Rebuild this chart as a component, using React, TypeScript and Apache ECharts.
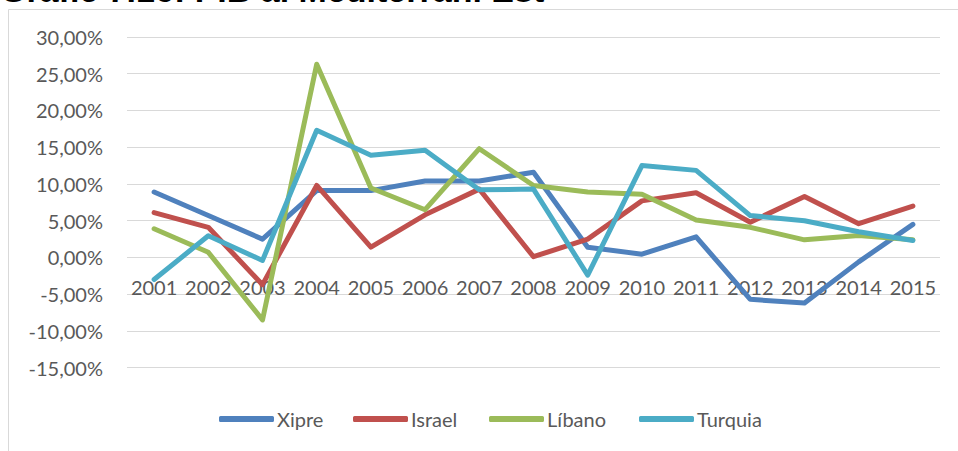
import React, { useEffect, useRef } from "react";
import * as echarts from "echarts";

const TITLE = "Gràfic 7.16: PIB al Mediterrani Est";
const years = ["2001", "2002", "2003", "2004", "2005", "2006", "2007", "2008", "2009", "2010", "2011", "2012", "2013", "2014", "2015"];
const xipre = [8.9, 5.7, 2.5, 9.1, 9.1, 10.4, 10.4, 11.6, 1.4, 0.45, 2.8, -5.7, -6.2, -0.6, 4.5];
const israel = [6.1, 4.1, -3.7, 9.8, 1.4, 5.8, 9.3, 0.1, 2.5, 7.7, 8.8, 4.8, 8.3, 4.6, 7.0];
const libano = [3.9, 0.7, -8.5, 26.3, 9.45, 6.5, 14.8, 9.8, 8.9, 8.6, 5.1, 4.1, 2.4, 3.0, 2.4];
const turquia = [-3.0, 2.95, -0.4, 17.3, 13.9, 14.6, 9.2, 9.3, -2.4, 12.5, 11.85, 5.7, 5.0, 3.5, 2.3];
const seriesNames = ["Xipre", "Israel", "Líbano", "Turquia"];
const seriesData = [xipre, israel, libano, turquia];
const colors = ["#4F81BD", "#C0504D", "#9BBB59", "#4BACC6"];
const legendLefts = [214, 348, 484, 634];

const FONT = "Lato";

export default function App() {
  const ref = useRef<HTMLDivElement>(null);
  useEffect(() => {
    if (!ref.current) return;
    const chart = echarts.init(ref.current, undefined, { renderer: "svg" });
    chart.setOption({
      animation: false,
      backgroundColor: "#ffffff",
      graphic: [
        {
          type: "rect",
          shape: { x: 8.5, y: 9.5, width: 1000, height: 500 },
          style: { fill: "none", stroke: "#D9D9D9", lineWidth: 1 },
          z: -1,
        },
        {
          type: "text",
          x: 0,
          y: -10.5,
          style: {
            text: TITLE,
            font: "bold 34px 'Liberation Sans', Arial, sans-serif",
            fill: "#000000",
            verticalAlign: "middle",
          },
        },
      ],
      grid: { left: 127, right: 18, top: 37, bottom: 83.3, containLabel: false },
      xAxis: {
        type: "category",
        data: years,
        boundaryGap: true,
        offset: -110,
        axisLine: { show: false, onZero: false },
        axisTick: { show: false },
        axisLabel: { color: "#595959", fontSize: 20, fontFamily: FONT, margin: 19, interval: 0 },
      },
      yAxis: {
        type: "value",
        min: -15,
        max: 30,
        interval: 5,
        axisLine: { show: false },
        axisTick: { show: false },
        splitLine: { lineStyle: { color: "#D9D9D9", width: 1 } },
        axisLabel: {
          color: "#595959",
          fontSize: 20,
          fontFamily: FONT,
          margin: 24,
          formatter: (v: number) => v.toFixed(2).replace(".", ",") + "%",
        },
      },
      legend: seriesNames.map((name, i) => ({
        data: [name],
        left: legendLefts[i],
        top: 404,
        itemWidth: 55,
        itemHeight: 6,
        icon: "roundRect",
        textStyle: { color: "#595959", fontSize: 20, fontFamily: FONT, padding: [0, 0, 0, -2] },
      })),
      series: seriesNames.map((name, i) => ({
        name,
        type: "line",
        data: seriesData[i],
        symbol: "none",
        color: colors[i],
        lineStyle: { width: 5, color: colors[i], cap: "round", join: "round" },
      })),
    });
    return () => chart.dispose();
  }, []);
  return <div ref={ref} style={{ position: "absolute", left: 0, top: 0, width: 958, height: 451 }} />;
}
